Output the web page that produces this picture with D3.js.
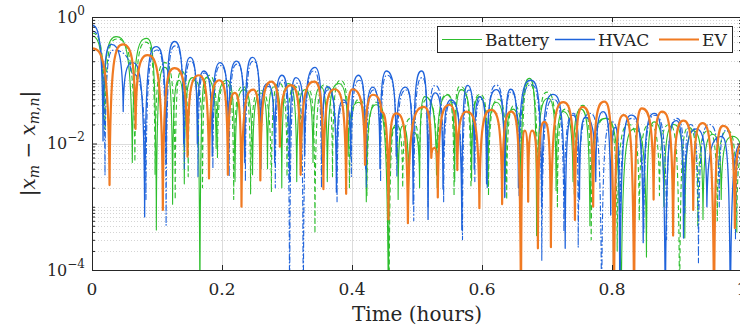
<!DOCTYPE html>
<html>
<head>
<meta charset="utf-8">
<script src="https://cdn.jsdelivr.net/npm/d3@7"></script>
<style>
  html, body { margin: 0; padding: 0; background: #fff; }
  svg { display: block; }
  svg text { font-family: "DejaVu Serif", "Liberation Serif", serif; }
</style>
</head>
<body>
<svg id="chart" width="740" height="333"></svg>
<script>
// ---------------- data ----------------
const xTicks = [0, 0.2, 0.4, 0.6, 0.8, 1];
const xTickLabels = ["0", "0.2", "0.4", "0.6", "0.8", "1"];
const yTicks = [1e-4, 1e-2, 1];
const yTickExp = ["\u22124", "\u22122", "0"];
const legendNames = ["Battery", "HVAC", "EV"];

// Battery, solid
const batT = [0.000,0.018,0.037,0.062,0.084,0.099,0.112,0.124,0.134,0.142,0.155,0.166,0.176,0.191,0.207,0.220,0.233,0.247,0.260,0.270,0.280,0.292,0.302,0.315,0.328,0.340,0.352,0.362,0.380,0.394,0.410,0.422,0.437,0.456,0.465,0.471,0.478,0.487,0.496,0.504,0.512,0.530,0.548,0.558,0.568,0.584,0.596,0.609,0.622,0.636,0.648,0.660,0.673,0.684,0.702,0.714,0.725,0.740,0.752,0.766,0.790,0.814,0.835,0.853,0.865,0.880,0.895,0.912,0.925,0.940,0.955,0.968,0.985,1.000];
const batV = [0.50,0.025,0.49,5.0e-3,0.46,4.3e-4,0.16,1.1e-3,0.10,2.3e-3,0.11,1e-5,0.11,8.3e-3,0.10,2.5e-3,0.071,3.2e-3,0.063,4.0e-3,0.079,2.0e-3,0.089,2.5e-3,0.071,5.0e-3,0.079,2.5e-3,0.089,6.3e-3,0.045,1.2e-3,0.041,1e-5,0.018,1.3e-3,0.019,2.5e-3,0.015,2.0e-3,0.055,3.2e-3,0.059,2.5e-3,0.071,2.6e-3,0.055,2.1e-3,0.045,2.5e-3,0.035,1.3e-3,0.107,3.5e-4,0.052,1.8e-3,0.032,2.5e-3,0.035,5.0e-4,0.025,1e-5,0.017,1.6e-4,0.022,1.0e-3,0.020,3.2e-4,0.016,6.3e-4,0.014,1.3e-3,0.013,6.3e-3];

// Battery, dashed
const bat2T = [0.000,0.020,0.038,0.066,0.083,0.097,0.112,0.128,0.138,0.148,0.158,0.170,0.180,0.193,0.206,0.218,0.232,0.244,0.258,0.276,0.288,0.300,0.312,0.322,0.333,0.343,0.358,0.370,0.382,0.396,0.412,0.423,0.438,0.457,0.468,0.478,0.490,0.504,0.515,0.531,0.546,0.557,0.566,0.583,0.597,0.610,0.625,0.638,0.650,0.662,0.672,0.686,0.700,0.716,0.728,0.742,0.755,0.768,0.791,0.808,0.826,0.842,0.858,0.873,0.888,0.904,0.918,0.932,0.948,0.962,0.978,0.992,1.000];
const bat2V = [0.56,0.016,0.45,5.1e-3,0.40,3.2e-3,0.19,1.3e-3,0.14,3.0e-3,0.10,2.0e-3,0.12,6.0e-3,0.09,1.3e-3,0.08,1.6e-3,0.07,1.7e-3,0.09,3.0e-3,0.08,4.0e-3,0.07,3.8e-4,0.085,3.0e-3,0.10,2.0e-3,0.05,1.5e-3,0.045,1e-5,0.02,2.0e-3,0.025,3.8e-3,0.05,2.0e-3,0.06,1.5e-3,0.08,2.0e-3,0.06,1.5e-3,0.05,1.3e-3,0.04,2.0e-3,0.09,6.0e-4,0.065,1.0e-3,0.035,1.5e-3,0.04,3.0e-4,0.025,2.0e-4,0.02,6.0e-4,0.02,1.5e-3,0.02,1e-5,0.018,5.0e-4,0.016,6.0e-4,0.016,4.0e-4,0.006];

// HVAC, solid
const hvacT = [0.000,0.017,0.030,0.048,0.062,0.081,0.099,0.114,0.127,0.141,0.151,0.162,0.172,0.185,0.197,0.210,0.222,0.235,0.247,0.259,0.270,0.281,0.292,0.304,0.314,0.327,0.343,0.354,0.362,0.376,0.387,0.398,0.410,0.421,0.432,0.443,0.453,0.468,0.482,0.494,0.507,0.517,0.528,0.540,0.552,0.569,0.578,0.588,0.597,0.607,0.622,0.635,0.644,0.656,0.675,0.692,0.709,0.728,0.740,0.750,0.759,0.775,0.786,0.798,0.805,0.812,0.830,0.848,0.865,0.882,0.899,0.910,0.930,0.946,0.968,0.982,1.000];
const hvacV = [0.74,0.011,0.37,0.032,0.19,6.9e-4,0.34,5.0e-3,0.41,0.010,0.23,0.010,0.14,6.3e-3,0.19,7.9e-3,0.20,5.0e-3,0.23,0.010,0.089,5.0e-3,0.12,2.5e-3,0.11,6.3e-3,0.16,5.0e-3,0.079,1.7e-3,0.049,6.3e-3,0.12,4.0e-3,0.078,4.0e-3,0.14,6.3e-3,0.078,1.1e-3,0.14,6.3e-4,0.063,1.9e-3,0.049,4.3e-4,0.083,4.0e-3,0.055,2.3e-3,0.071,1.4e-3,0.072,2.0e-3,0.10,1.0e-3,0.060,2.2e-4,0.028,1.3e-3,0.026,2.5e-3,0.032,7.4e-4,0.018,1e-5,0.028,2.7e-4,0.030,1e-5,0.023,3.2e-4,0.017,1.0e-3,0.013,1e-5,0.010];

// HVAC, dash-dot
const hvac2T = [0.000,0.020,0.033,0.060,0.083,0.100,0.114,0.128,0.142,0.152,0.163,0.173,0.186,0.198,0.211,0.223,0.236,0.248,0.260,0.271,0.282,0.293,0.304,0.315,0.325,0.341,0.353,0.363,0.377,0.388,0.399,0.411,0.422,0.433,0.444,0.454,0.469,0.483,0.495,0.508,0.517,0.528,0.541,0.553,0.570,0.580,0.589,0.598,0.608,0.622,0.635,0.645,0.657,0.676,0.692,0.710,0.726,0.741,0.748,0.766,0.784,0.800,0.813,0.830,0.849,0.866,0.884,0.900,0.912,0.921,0.933,0.950,0.965,0.975,0.990,1.000];
const hvac2V = [0.60,3.2e-3,0.30,0.13,1.3e-3,0.30,5.1e-4,0.35,4.0e-3,0.20,3.0e-3,0.13,4.0e-3,0.17,3.0e-3,0.18,2.5e-3,0.20,4.0e-3,0.08,2.0e-3,0.10,1e-5,0.09,1e-5,0.14,2.0e-3,0.07,1.2e-3,0.045,3.0e-3,0.10,2.0e-3,0.07,2.5e-3,0.12,3.0e-3,0.07,6.0e-4,0.11,1.0e-3,0.083,1.2e-3,0.045,3.0e-4,0.07,2.5e-3,0.05,2.0e-3,0.084,1.4e-3,0.065,1.5e-3,0.085,1.4e-4,0.05,4.0e-4,0.03,2.3e-4,0.03,1e-5,0.022,5.0e-4,0.025,4.0e-4,0.028,3.0e-4,0.025,8.0e-4,0.02,1.3e-4,0.02,1.0e-3,0.016,3.0e-4,0.008];

// EV, solid
const evT = [0.000,0.027,0.048,0.067,0.085,0.109,0.127,0.147,0.164,0.180,0.196,0.209,0.2195,0.230,0.248,0.259,0.276,0.289,0.306,0.321,0.342,0.356,0.373,0.391,0.401,0.420,0.432,0.445,0.456,0.468,0.486,0.511,0.522,0.527,0.532,0.550,0.562,0.576,0.596,0.614,0.631,0.645,0.660,0.666,0.671,0.677,0.686,0.696,0.706,0.725,0.743,0.755,0.771,0.788,0.803,0.818,0.834,0.846,0.864,0.877,0.894,0.910,0.925,0.939,0.957,0.971,0.989,1.000];
const evV = [0.32,2.2e-3,0.37,0.017,0.25,8.9e-4,0.155,6.2e-3,0.12,2.8e-3,0.10,3.2e-3,0.063,1.0e-3,0.071,2.6e-3,0.095,8.9e-3,0.084,3.2e-3,0.095,1.9e-3,0.072,1.6e-3,0.072,4.6e-3,0.059,0.032,6.3e-4,0.030,5.5e-4,0.038,5.9e-3,8.5e-3,1.4e-3,0.041,3.8e-3,0.032,9.5e-4,0.034,1.1e-3,0.032,1e-5,0.016,1.2e-3,0.016,2.2e-4,0.022,2.3e-4,0.045,6.2e-4,0.038,1.0e-3,0.046,1e-5,0.028,1e-5,0.036,1.3e-3,0.032,3.5e-4,0.023,8.9e-4,0.021,1e-5,0.019,4.6e-4,0.010];

// ---------------- layout ----------------
const M = { left: 92, right: 742, top: 17, bottom: 270 };
const colGreen = "#2DBE2D", colBlue = "#1F63DB", colOrange = "#F07A22";
const axisCol = "#262626";

const svg = d3.select("#chart");
const x = d3.scaleLinear().domain([0, 1]).range([M.left, M.right]);
const y = d3.scaleLog().domain([1e-4, 1]).range([M.bottom, M.top]);

// grid
const grid = svg.append("g");
const minorVals = [];
for (let k = -4; k < 0; k++) {
  for (let m = 2; m <= 9; m++) minorVals.push(m * Math.pow(10, k));
}
minorVals.push(1e-1, 1e-3);
grid.selectAll("line.ymin").data(minorVals).join("line")
  .attr("x1", M.left).attr("x2", M.right)
  .attr("y1", d => Math.round(y(d)) + 0.5).attr("y2", d => Math.round(y(d)) + 0.5)
  .attr("stroke", "#d4d4d4").attr("stroke-width", 1).attr("stroke-dasharray", "1,2");
grid.selectAll("line.ymaj").data([1e-2]).join("line")
  .attr("x1", M.left).attr("x2", M.right)
  .attr("y1", d => Math.round(y(d)) + 0.5).attr("y2", d => Math.round(y(d)) + 0.5)
  .attr("stroke", "#dcdcdc").attr("stroke-width", 1);
grid.selectAll("line.xmaj").data(xTicks.slice(1, -1)).join("line")
  .attr("x1", d => Math.round(x(d)) + 0.5).attr("x2", d => Math.round(x(d)) + 0.5)
  .attr("y1", M.top).attr("y2", M.bottom)
  .attr("stroke", "#dcdcdc").attr("stroke-width", 1);

// custom curve: rounded at local maxima, steep at local minima (log-|.| look)
function archCurve(context) {
  let x0, y0, n = 0;
  return {
    areaStart() {}, areaEnd() {},
    lineStart() { n = 0; },
    lineEnd() {},
    point(px, py) {
      px = +px; py = +py;
      if (n++ === 0) context.moveTo(px, py);
      else {
        const dx = px - x0;
        if (py < y0) {
          const k = Math.min(10, 0.3 * (y0 - py));
          context.bezierCurveTo(x0 + 0.05 * dx, py + k, x0 + 0.4 * dx, py, px, py);
        } else {
          const k = Math.min(10, 0.3 * (py - y0));
          context.bezierCurveTo(x0 + 0.6 * dx, y0, x0 + 0.95 * dx, y0 + k, px, py);
        }
      }
      x0 = px; y0 = py;
    }
  };
}

svg.append("defs").append("clipPath").attr("id", "plotclip")
  .append("rect").attr("x", M.left).attr("y", M.top)
  .attr("width", M.right - M.left).attr("height", M.bottom - M.top);

const series = [
  { t: batT, v: batV, color: colGreen, w: 1.1, dash: null },
  { t: bat2T, v: bat2V, color: colGreen, w: 1.1, dash: "5,3" },
  { t: hvacT, v: hvacV, color: colBlue, w: 1.3, dash: null },
  { t: hvac2T, v: hvac2V, color: colBlue, w: 1.1, dash: "6,2,1.5,2" },
  { t: evT, v: evV, color: colOrange, w: 2.2, dash: null }
];

const line = d3.line().x(d => x(d[0])).y(d => y(d[1])).curve(archCurve);
const plot = svg.append("g").attr("clip-path", "url(#plotclip)");
series.forEach(s => {
  const pts = s.t.map((t, i) => [t, s.v[i]]);
  plot.append("path").datum(pts)
    .attr("d", line)
    .attr("fill", "none")
    .attr("stroke", s.color)
    .attr("stroke-width", s.w)
    .attr("stroke-linejoin", "round")
    .attr("stroke-dasharray", s.dash);
});

// axes (inward ticks)
function styleAxis(g) {
  g.selectAll("path.domain").attr("stroke", axisCol).attr("stroke-width", 1);
  g.selectAll(".tick line").attr("stroke", axisCol).attr("stroke-width", 1);
}
const yMinorTicks = minorVals;
const gl = svg.append("g").attr("transform", `translate(${M.left},0)`)
  .call(d3.axisLeft(y).tickValues(yTicks).tickSizeInner(-5).tickSizeOuter(0).tickFormat(""));
styleAxis(gl);
const glm = svg.append("g").attr("transform", `translate(${M.left},0)`)
  .call(d3.axisLeft(y).tickValues(yMinorTicks).tickSizeInner(-3).tickSizeOuter(0).tickFormat(""));
styleAxis(glm);
const gr = svg.append("g").attr("transform", `translate(${M.right},0)`)
  .call(d3.axisRight(y).tickValues(yTicks).tickSizeInner(-5).tickSizeOuter(0).tickFormat(""));
styleAxis(gr);
const grm = svg.append("g").attr("transform", `translate(${M.right},0)`)
  .call(d3.axisRight(y).tickValues(yMinorTicks).tickSizeInner(-3).tickSizeOuter(0).tickFormat(""));
styleAxis(grm);
const gb = svg.append("g").attr("transform", `translate(0,${M.bottom})`)
  .call(d3.axisBottom(x).tickValues(xTicks).tickSizeInner(-5).tickSizeOuter(0).tickFormat(""));
styleAxis(gb);
const gt = svg.append("g").attr("transform", `translate(0,${M.top})`)
  .call(d3.axisTop(x).tickValues(xTicks).tickSizeInner(-5).tickSizeOuter(0).tickFormat(""));
styleAxis(gt);

// tick labels
svg.append("g").selectAll("text").data(xTicks).join("text")
  .attr("x", d => x(d)).attr("y", M.bottom + 25)
  .attr("text-anchor", "middle")
  .attr("font-size", 17).attr("fill", axisCol)
  .text((d, i) => xTickLabels[i]);

const yl = svg.append("g").selectAll("text").data(yTicks).join("text")
  .attr("x", M.left - 7).attr("y", d => y(d) + 5.5)
  .attr("text-anchor", "end")
  .attr("font-size", 16).attr("fill", axisCol);
yl.append("tspan").text("10");
yl.append("tspan").attr("dy", -8).attr("font-size", 12).text((d, i) => yTickExp[i]);

// axis titles
svg.append("text")
  .attr("x", (M.left + M.right) / 2).attr("y", 321)
  .attr("text-anchor", "middle")
  .attr("font-size", 20).attr("fill", axisCol)
  .text("Time (hours)");

const ylab = svg.append("text")
  .attr("transform", `translate(35,${(M.top + M.bottom) / 2}) rotate(-90)`)
  .attr("text-anchor", "middle")
  .attr("font-size", 20).attr("fill", axisCol);
ylab.append("tspan").text("|");
ylab.append("tspan").attr("font-style", "italic").text("x");
ylab.append("tspan").attr("font-style", "italic").attr("font-size", 14).attr("dy", 4).text("m");
ylab.append("tspan").attr("dy", -4).text(" \u2212 ");
ylab.append("tspan").attr("font-style", "italic").text("x");
ylab.append("tspan").attr("font-style", "italic").attr("font-size", 14).attr("dy", 4).text("m,n");
ylab.append("tspan").attr("dy", -4).text("|");

// legend
const lg = svg.append("g");
lg.append("rect").attr("x", 437.5).attr("y", 26.5).attr("width", 295).attr("height", 26)
  .attr("fill", "#fff").attr("stroke", axisCol).attr("stroke-width", 1);
const legItems = [
  { x0: 442, tx: 485, color: colGreen, w: 1.1 },
  { x0: 555, tx: 598, color: colBlue, w: 1.3 },
  { x0: 659, tx: 702, color: colOrange, w: 2.2 }
];
legItems.forEach((it, i) => {
  lg.append("line").attr("x1", it.x0).attr("x2", it.x0 + 40)
    .attr("y1", 39.5).attr("y2", 39.5)
    .attr("stroke", it.color).attr("stroke-width", it.w);
  lg.append("text").attr("x", it.tx).attr("y", 45.5)
    .attr("font-size", 17).attr("fill", axisCol)
    .text(legendNames[i]);
});
</script>
</body>
</html>
